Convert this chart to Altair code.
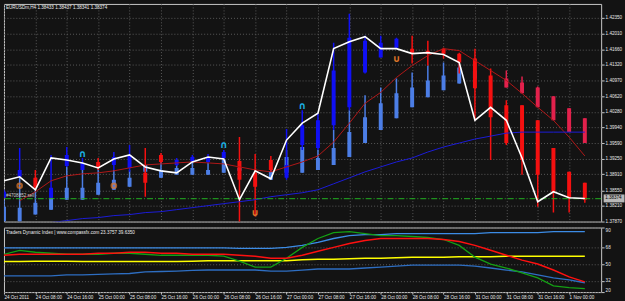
import altair as alt
import pandas as pd

# ---------------- data ----------------
time_labels = ["24 Oct 2011", "24 Oct 08:00", "24 Oct 16:00", "25 Oct 00:00", "25 Oct 08:00",
               "25 Oct 16:00", "26 Oct 00:00", "26 Oct 08:00", "26 Oct 16:00", "27 Oct 00:00",
               "27 Oct 08:00", "27 Oct 16:00", "28 Oct 00:00", "28 Oct 08:00", "28 Oct 16:00",
               "31 Oct 00:00", "31 Oct 08:00", "31 Oct 16:00", "1 Nov 00:00"]
bar_index = list(range(38))

close_price = [1.38762, 1.38849, 1.38565, 1.39265, 1.39221, 1.39156, 1.39046, 1.39243, 1.39331, 1.39068,
               1.38981, 1.38937, 1.39177, 1.39287, 1.39243, 1.38346, 1.38981, 1.38806, 1.39659, 1.40031,
               1.40250, 1.41672, 1.41825, 1.41934, 1.41672, 1.41672, 1.41562, 1.41584, 1.41541, 1.41365,
               1.40094, 1.40381, 1.40094, 1.39265, 1.38302, 1.38521, 1.38390, 1.38374]

red_ma = [None, 1.38324, 1.38521, 1.38762, 1.38871, 1.38915, 1.38937, 1.38981, 1.39046, 1.39112,
          1.39134, 1.39156, 1.39177, 1.39156, 1.39134, 1.39068, 1.39002, 1.38959, 1.39068, 1.39177,
          1.39309, 1.39615, 1.40031, 1.40468, 1.40709, 1.41037, 1.41300, 1.41519, 1.41672, 1.41628,
          1.41409, 1.41190, 1.40972, 1.40687, 1.40381, 1.40094, 1.39724, 1.39309]

blue_ma = [None, None, None, 1.37843, 1.37886, 1.37930, 1.37952, 1.37996, 1.38018, 1.38062,
           1.38083, 1.38127, 1.38171, 1.38215, 1.38259, 1.38302, 1.38346, 1.38412, 1.38455, 1.38499,
           1.38565, 1.38696, 1.38827, 1.38959, 1.39068, 1.39177, 1.39265, 1.39396, 1.39506, 1.39593,
           1.39681, 1.39746, 1.39812, 1.39834, 1.39834, 1.39834, 1.39834, 1.39834]

# bright Heiken-Ashi bars
ha_dir = ["up", "up", "down", "up", "up", "up", "down", "up", "up", "down",
          "down", "up", "up", "up", "up", "down", "down", "down", "up", "up",
          "up", "up", "up", "up", "up", "up", "down", "down", "down", "down",
          "down", "down", "down", "down", "down", "down", "down", "down"]
ha_high = [1.38565, 1.39484, 1.39002, 1.39331, 1.39506, 1.39265, 1.39265, 1.39396, 1.39549, 1.39484,
           1.39374, 1.39265, 1.39331, 1.39353, 1.39440, 1.39724, 1.39353, 1.39309, 1.39900, 1.40315,
           1.40250, 1.41803, 1.42438, 1.41956, 1.41956, 1.41912, 1.41956, 1.41847, 1.41694, 1.41584,
           1.41672, 1.41234, 1.40534, 1.40425, 1.40094, 1.39484, 1.38959, 1.38718]
ha_low = [1.38390, 1.38827, 1.38565, 1.38390, 1.39068, 1.39002, 1.39002, 1.39002, 1.38959, 1.38412,
          1.39156, 1.39090, 1.39177, 1.39156, 1.39221, 1.37799, 1.37974, 1.38959, 1.38784, 1.39440,
          1.39440, 1.39878, 1.40315, 1.41125, 1.41475, 1.41672, 1.41344, 1.41300, 1.41453, 1.41125,
          1.40094, 1.39221, 1.39549, 1.38893, 1.38193, 1.38062, 1.38062, 1.38280]
ha_top = [1.38521, 1.39002, 1.38827, 1.38609, 1.39331, 1.39156, 1.39177, 1.39287, 1.39331, 1.38937,
          1.39331, 1.39221, 1.39287, 1.39287, 1.39396, 1.39199, 1.38937, 1.39221, 1.39112, 1.39987,
          1.40094, 1.41190, 1.41912, 1.41847, 1.41803, 1.41891, 1.41672, 1.41628, 1.41672, 1.41562,
          1.41453, 1.41081, 1.40425, 1.40425, 1.40094, 1.39484, 1.38959, 1.38718]
ha_bot = [1.38390, 1.38849, 1.38609, 1.38390, 1.39090, 1.39002, 1.39046, 1.39112, 1.39046, 1.38718,
          1.39177, 1.39112, 1.39177, 1.39177, 1.39265, 1.38784, 1.38630, 1.39002, 1.38827, 1.39549,
          1.39484, 1.39987, 1.40381, 1.41147, 1.41475, 1.41694, 1.41584, 1.41562, 1.41562, 1.41365,
          1.40797, 1.40162, 1.39593, 1.39221, 1.38893, 1.38499, 1.38390, 1.38346]

# smoothed Heiken-Ashi bars (lighter colours)
sh_dir = ["up"] * 31 + ["down"] * 7
sh_high = [1.38346, 1.38827, 1.38565, 1.38390, 1.39068, 1.39002, 1.39046, 1.39002, 1.39002, 1.39112,
           1.39221, 1.39112, 1.39177, 1.39156, 1.39221, 1.39068, None, 1.39002, 1.39440, 1.39506,
           1.39440, 1.39878, 1.40315, 1.40643, 1.40818, 1.41015, 1.41147, 1.41300, 1.41365, 1.41409,
           1.41300, None, 1.41190, 1.41059, 1.40840, 1.40622, 1.40359, 1.40140]
sh_low = [1.37865, 1.37865, 1.38018, 1.38127, 1.38346, 1.38346, 1.38455, 1.38565, 1.38630, 1.38937,
          1.38827, 1.38893, 1.38893, 1.38893, 1.38937, 1.38959, None, 1.38784, 1.38937, 1.38937,
          1.39002, 1.39112, 1.39287, 1.39593, 1.39878, 1.40140, 1.40381, 1.40600, 1.40753, 1.40906,
          1.40972, None, 1.40818, 1.40687, 1.40381, 1.40094, 1.39834, 1.39593]
sh_top = [1.38193, 1.38171, 1.38280, 1.38390, 1.38609, 1.38609, 1.38718, 1.38784, 1.38827, 1.39112,
          1.39002, 1.39046, 1.39046, 1.39002, 1.39221, 1.39046, None, 1.38959, 1.39287, 1.39506,
          1.39265, 1.39484, 1.39834, 1.40162, 1.40468, 1.40687, 1.40818, 1.40972, 1.41081, 1.41256,
          1.41190, None, 1.41015, 1.40928, 1.40818, 1.40622, 1.40359, 1.40140]
sh_bot = [1.37865, 1.37865, 1.38018, 1.38127, 1.38346, 1.38346, 1.38455, 1.38565, 1.38630, 1.38959,
          1.38827, 1.38893, 1.38893, 1.38893, 1.38937, 1.38981, None, 1.38784, 1.38937, 1.38937,
          1.39002, 1.39112, 1.39287, 1.39593, 1.39878, 1.40140, 1.40381, 1.40600, 1.40753, 1.40906,
          1.41015, None, 1.40818, 1.40687, 1.40381, 1.40094, 1.39834, 1.39593]

order_price = 1.38368
last_price = 1.38374
price_ticks = [1.42350, 1.42010, 1.41660, 1.41320, 1.40970, 1.40620, 1.40280, 1.39940,
               1.39590, 1.39250, 1.38910, 1.38550, 1.38210, 1.37870]

sig_up_i = [5, 14, 19]
sig_up_price = [1.39353, 1.39549, 1.40403]
sig_dn_i = [16, 25]
sig_dn_price = [1.38062, 1.41453]
dot_i = [1, 7]
dot_price = [1.38652, 1.38652]

# Traders Dynamic Index
tdi_green = [61.0, 65.3, 63.2, 62.1, 61.0, 61.0, 61.0, 62.1, 62.1, 61.0, 59.9, 59.9, 59.9, 59.9, 58.9,
             53.5, 47.0, 47.0, 56.7, 68.5, 78.2, 84.7, 85.7, 83.6, 81.4, 81.4, 80.4, 79.3, 77.1, 70.7,
             57.8, 50.3, 46.0, 40.6, 35.2, 26.6, 24.5, 23.4]
tdi_red = [59.9, 61.0, 61.0, 61.0, 61.0, 61.0, 62.1, 62.1, 63.2, 63.2, 62.1, 62.1, 61.0, 61.0, 61.0,
           59.9, 58.9, 56.7, 56.7, 59.9, 64.2, 68.5, 72.8, 76.1, 78.2, 78.2, 78.2, 78.2, 77.1, 75.0,
           70.7, 65.3, 59.9, 54.6, 50.3, 43.8, 36.3, 30.9]
tdi_yellow = [53.0, 53.0, 53.5, 53.5, 53.5, 53.0, 53.0, 53.0, 53.0, 53.0, 53.0, 53.0, 53.5, 54.0, 54.0,
              54.0, 54.0, 54.0, 54.0, 55.0, 55.6, 55.6, 56.2, 56.7, 56.7, 57.3, 57.8, 57.8, 57.8, 58.4,
              58.4, 58.4, 58.9, 58.9, 58.9, 58.9, 58.9, 58.9]
tdi_upper = [68.0, 68.0, 68.0, 68.0, 68.0, 68.0, 68.0, 68.0, 68.0, 68.0, 68.0, 68.0, 68.0, 68.0, 68.0,
             67.5, 67.5, 67.5, 68.5, 70.7, 73.9, 78.2, 81.4, 82.5, 82.5, 83.6, 83.6, 83.6, 83.6, 83.6,
             83.6, 84.7, 84.7, 84.7, 84.7, 85.7, 85.7, 85.7]
tdi_lower = [37.4, 37.4, 37.4, 37.4, 38.4, 38.4, 39.0, 39.5, 40.0, 41.7, 42.2, 42.7, 43.3, 43.8, 43.8,
             43.8, 43.8, 42.7, 42.7, 43.8, 44.9, 44.9, 44.9, 46.0, 47.0, 48.1, 49.2, 49.2, 49.2, 49.2,
             48.1, 46.0, 43.8, 41.7, 38.4, 35.2, 33.1, 29.9]
tdi_ticks = [19.7058, 32, 50, 68, 90.2043]

main_title = "EURUSDm,H4 1.38433 1.38437 1.38341 1.38374"
tdi_title = "Traders Dynamic Index | www.compassfx.com  23.3757 39.6350"
order_label = "#4708852 sell"

# ---------------- tables ----------------
df = pd.DataFrame({
    "i": bar_index, "close": close_price, "red_ma": red_ma, "blue_ma": blue_ma,
    "ha_dir": ha_dir, "ha_high": ha_high, "ha_low": ha_low, "ha_top": ha_top, "ha_bot": ha_bot,
    "sh_dir": sh_dir, "sh_high": sh_high, "sh_low": sh_low, "sh_top": sh_top, "sh_bot": sh_bot,
    "green": tdi_green, "red": tdi_red, "yellow": tdi_yellow, "upper": tdi_upper, "lower": tdi_lower,
})
up_df = pd.DataFrame({"i": sig_up_i, "p": sig_up_price})
dn_df = pd.DataFrame({"i": sig_dn_i, "p": sig_dn_price})
dot_df = pd.DataFrame({"i": dot_i, "p": dot_price})
one = pd.DataFrame({"p": [order_price], "last": [last_price], "lab": [order_label],
                    "lastlab": [f"{last_price:.5f}"], "t1": [main_title], "t2": [tdi_title]})

FONT = "Liberation Sans"
FS = 4.6
GRID = "#5a5a5a"

xscale = alt.Scale(domain=[0, 38.04], nice=False, zero=False)
yscale = alt.Scale(domain=[1.37865, 1.42656], nice=False, zero=False)
tscale = alt.Scale(domain=[19.7058, 90.2043], nice=False, zero=False)

even = [v for v in bar_index if v % 2 == 0]
x_axis_top = alt.Axis(values=even, labels=False, ticks=False, domain=False, grid=True,
                      gridColor=GRID, gridDash=[1, 2], title=None)
label_js = "[" + ",".join("'" + s + "'" for s in time_labels) + "]"
x_axis_bot = alt.Axis(values=even, labelExpr=label_js + "[datum.value/2]", labelAlign="left",
                      labelBaseline="top", labelFlush=False, labelOverlap=False, labelPadding=0,
                      labelFontSize=FS, labelFont=FONT, labelColor="#e8e8e8", ticks=True, tickSize=2,
                      tickColor="#c8c8c8", domain=False, grid=False, title=None)
y_axis_main = alt.Axis(orient="right", values=price_ticks, format=".5f", grid=True, gridColor=GRID,
                       gridDash=[1, 2], domain=False, ticks=True, tickSize=3, tickColor="#c8c8c8",
                       labelColor="#e8e8e8", labelFontSize=FS, labelFont=FONT, labelPadding=1,
                       labelFlush=False, labelOverlap=False, title=None)
y_axis_tdi = alt.Axis(orient="right", values=tdi_ticks, format="~f", grid=True, gridColor=GRID,
                      gridDash=[1, 2], domain=False, ticks=True, tickSize=3, tickColor="#c8c8c8",
                      labelColor="#e8e8e8", labelFontSize=FS, labelFont=FONT, labelPadding=1,
                      labelFlush=True, labelOverlap=False, title=None)


def XT():
    return alt.X("i:Q", scale=xscale, axis=x_axis_top)


def YM(f):
    return alt.Y(f"{f}:Q", scale=yscale, axis=y_axis_main)


def Y2(f):
    return alt.Y2(f"{f}:Q")


base = alt.Chart(df)
bright = alt.Scale(domain=["up", "down"], range=["#1010F5", "#F51010"])
light = alt.Scale(domain=["up", "down"], range=["#4C7EE6", "#E2214C"])

sh_ok = base.transform_filter("isValid(datum.sh_high)")
sh_wick = sh_ok.mark_rule(strokeWidth=1.5, clip=True).encode(
    x=XT(), y=YM("sh_high"), y2=Y2("sh_low"),
    color=alt.Color("sh_dir:N", scale=light, legend=None))
sh_body = sh_ok.mark_rule(strokeWidth=4, clip=True).encode(
    x=XT(), y=YM("sh_top"), y2=Y2("sh_bot"),
    color=alt.Color("sh_dir:N", scale=light, legend=None))
ha_wick = base.mark_rule(strokeWidth=1.5, clip=True).encode(
    x=XT(), y=YM("ha_high"), y2=Y2("ha_low"),
    color=alt.Color("ha_dir:N", scale=bright, legend=None))
ha_body = base.mark_rule(strokeWidth=4, clip=True).encode(
    x=XT(), y=YM("ha_top"), y2=Y2("ha_bot"),
    color=alt.Color("ha_dir:N", scale=bright, legend=None))

red_line = base.transform_filter("isValid(datum.red_ma)").mark_line(
    color="#B01818", strokeWidth=1, clip=True).encode(x=XT(), y=YM("red_ma"))
blue_line = base.transform_filter("isValid(datum.blue_ma)").mark_line(
    color="#1C1CD8", strokeWidth=1, clip=True).encode(x=XT(), y=YM("blue_ma"))
close_line = base.mark_line(color="#ffffff", strokeWidth=1.6, clip=True).encode(
    x=XT(), y=YM("close"))

order_line = alt.Chart(one).mark_rule(color="#22B022", strokeWidth=1, strokeDash=[6, 2, 1, 2]).encode(
    y=YM("p"))
order_text = alt.Chart(one).mark_text(align="left", baseline="bottom", dy=-1, fontSize=FS, font=FONT,
                                      color="#cfcfcf").encode(
    x=alt.value(2), y=YM("p"), text="lab:N")

up_mark = alt.Chart(up_df).mark_text(text="∩", font="DejaVu Sans", fontWeight="bold", fontSize=10,
                                     color="#1CB4E6", baseline="middle").encode(x=XT(), y=YM("p"))
dn_mark = alt.Chart(dn_df).mark_text(text="∪", font="DejaVu Sans", fontWeight="bold", fontSize=10,
                                     color="#E0782A", baseline="middle").encode(x=XT(), y=YM("p"))
dot_mark = alt.Chart(dot_df).mark_point(shape="circle", filled=False, size=20, strokeWidth=2.2,
                                        color="#E0782A").encode(x=XT(), y=YM("p"))

price_box = alt.Chart(one).mark_tick(color="#ffffff", size=21, thickness=8, clip=False).encode(
    y=YM("last"), x=alt.value(614))
price_txt = alt.Chart(one).mark_text(align="left", baseline="middle", fontSize=FS, font=FONT,
                                     color="#000000", clip=False).encode(
    y=YM("last"), x=alt.value(605), text="lastlab:N")

title1 = alt.Chart(one).mark_text(align="left", baseline="middle", fontSize=FS, font=FONT,
                                  color="#eeeeee").encode(x=alt.value(2), y=alt.value(4), text="t1:N")

top = alt.layer(sh_wick, sh_body, ha_wick, ha_body, red_line, blue_line, order_line, close_line,
                up_mark, dn_mark, dot_mark, order_text, price_box, price_txt, title1
                ).resolve_scale(color="independent").properties(width=601, height=219)


def XB():
    return alt.X("i:Q", scale=xscale, axis=x_axis_bot)


def YT(f):
    return alt.Y(f"{f}:Q", scale=tscale, axis=y_axis_tdi)


t_upper = base.mark_line(color="#3C8CE6", strokeWidth=1.3, clip=True).encode(x=XB(), y=YT("upper"))
t_lower = base.mark_line(color="#2E6EC2", strokeWidth=1.3, clip=True).encode(x=XB(), y=YT("lower"))
t_yellow = base.mark_line(color="#FFFF00", strokeWidth=1.5, clip=True).encode(x=XB(), y=YT("yellow"))
t_green = base.mark_line(color="#14A014", strokeWidth=1.3, clip=True).encode(x=XB(), y=YT("green"))
t_red = base.mark_line(color="#FF1010", strokeWidth=1.5, clip=True).encode(x=XB(), y=YT("red"))
title2 = alt.Chart(one).mark_text(align="left", baseline="middle", fontSize=FS, font=FONT,
                                  color="#eeeeee").encode(x=alt.value(2), y=alt.value(6), text="t2:N")

bottom = alt.layer(t_upper, t_lower, t_yellow, t_green, t_red, title2).properties(width=601, height=65)

chart = alt.vconcat(top, bottom, spacing=3).properties(
    background="#131313",
    padding={"left": 3, "top": 2, "right": 0, "bottom": 0},
).configure_view(stroke="#c8c8c8", strokeWidth=1, fill="#131313")

chart.save("out.html", embed_options={"renderer": "svg", "actions": False})
